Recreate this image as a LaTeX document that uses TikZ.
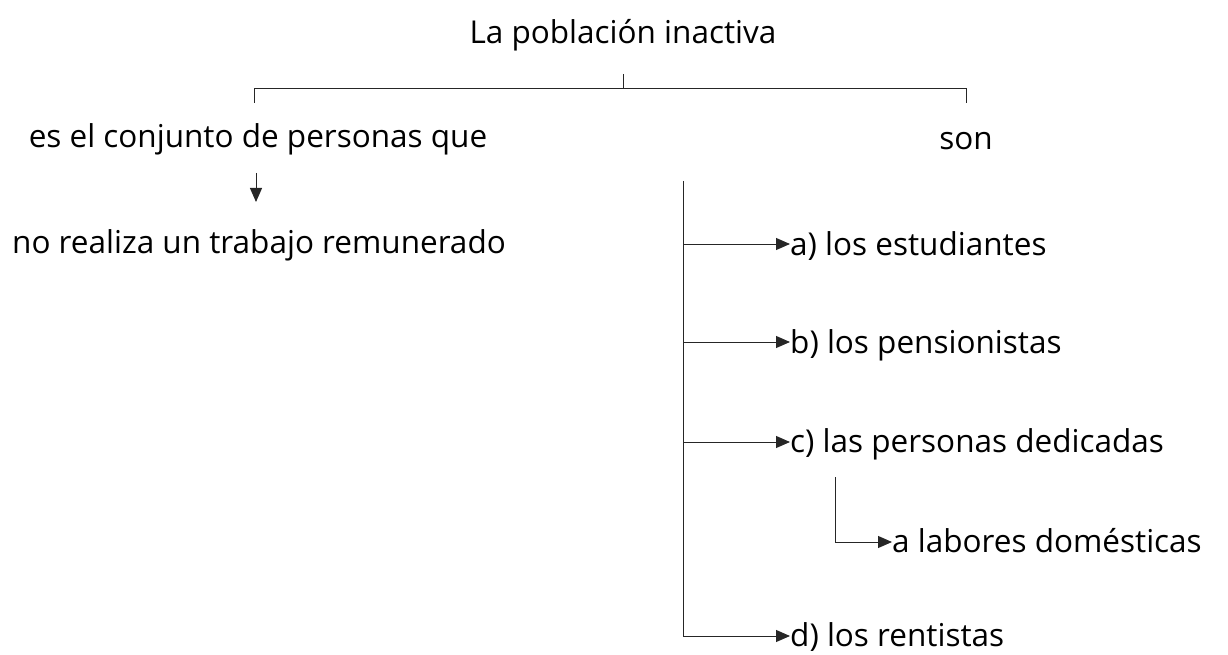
\documentclass[tikz,border=0pt]{standalone}
\usepackage{fontspec}
\setmainfont{Open Sans}
\usetikzlibrary{arrows.meta}
\begin{document}
\begin{tikzpicture}[x=1pt,y=-1pt,
  lbl/.style={inner sep=0pt, font=\fontsize{31.5}{38}\selectfont},
  ln/.style={line width=1pt, draw=black!85},
  arr/.style={ln,-{Triangle[length=14pt,width=12pt]}}]
\useasboundingbox (0,0) rectangle (1228,655);

% title and top bracket
\node[lbl,anchor=base] (title) at (623,44) {La población inactiva};
\coordinate (top) at (623,74);
\coordinate (bl) at (254,89);
\coordinate (br) at (966,89);
\coordinate (blend) at (254,103);
\coordinate (brend) at (966,103);
\draw[ln] (top) -- (top |- bl);
\draw[ln] (blend) -- (bl) -- (br) -- (brend);

% left branch
\node[lbl,anchor=base] (def) at (258,148) {es el conjunto de personas que};
\coordinate (ds) at (256,173);
\coordinate (de) at (256,202);
\draw[arr] (ds) -- (de);
\node[lbl,anchor=base] (noreal) at (259,253) {no realiza un trabajo remunerado};

% right branch
\node[lbl,anchor=base] (son) at (966,150) {son};
\coordinate (t0) at (683,181);
\coordinate (ja) at (683,244);
\coordinate (jb) at (683,342);
\coordinate (jc) at (683,442);
\coordinate (jd) at (683,636);
\node[lbl,anchor=base west] (a) at (790,255) {a) los estudiantes};
\node[lbl,anchor=base west] (b) at (790,353) {b) los pensionistas};
\node[lbl,anchor=base west] (c) at (790,452) {c) las personas dedicadas};
\node[lbl,anchor=base west] (d) at (790,646) {d) los rentistas};
\draw[ln] (t0) -- (jd);
\draw[arr] (ja) -- (ja -| a.west);
\draw[arr] (jb) -- (jb -| b.west);
\draw[arr] (jc) -- (jc -| c.west);
\draw[arr] (jd) -- (jd -| d.west);

% sub item
\coordinate (s0) at (835,477);
\coordinate (s1) at (835,542);
\node[lbl,anchor=base west] (sub) at (892,552) {a labores domésticas};
\draw[arr] (s0) -- (s1) -- (s1 -| sub.west);
\end{tikzpicture}
\end{document}
